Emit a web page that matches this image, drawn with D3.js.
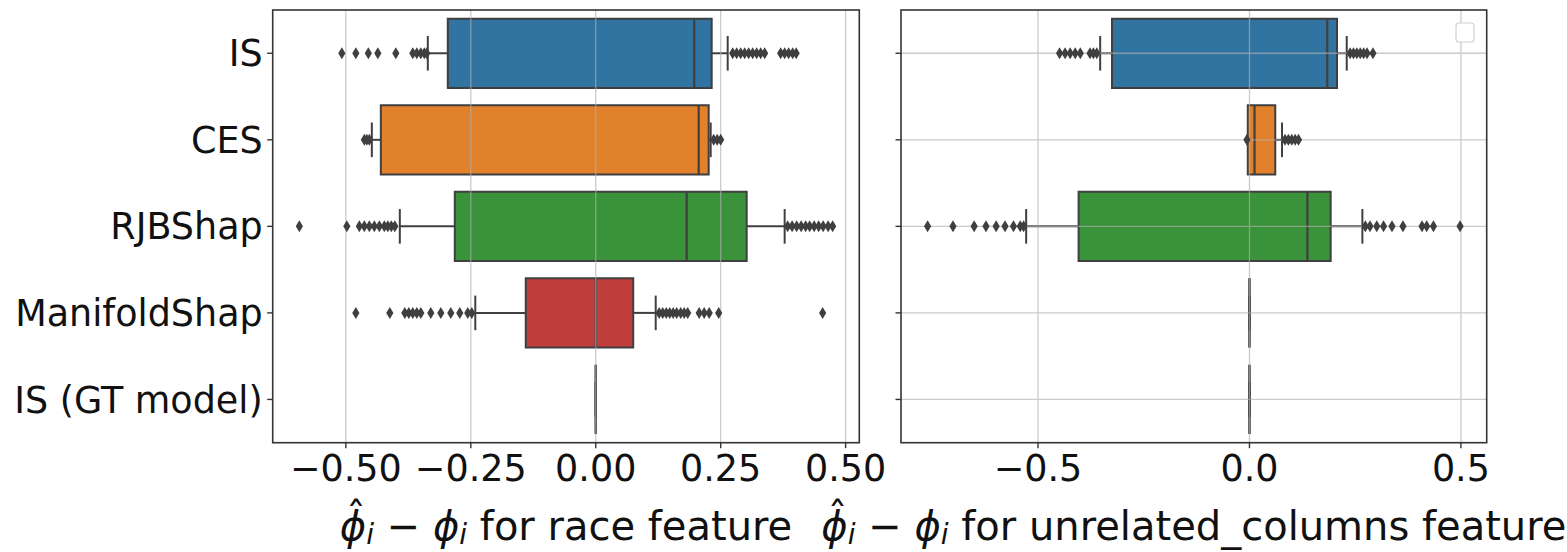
<!DOCTYPE html>
<html>
<head>
<meta charset="utf-8">
<script src="https://cdn.jsdelivr.net/npm/d3@7"></script>
<style>
  html, body { margin: 0; padding: 0; background: #ffffff; }
  svg { display: block; font-family: "DejaVu Sans", sans-serif; }
</style>
</head>
<body>
<svg id="chart" width="1567" height="552"></svg>
<script>
// Methods compared (one row per method)
const categories = ["IS", "CES", "RJBShap", "ManifoldShap", "IS (GT model)"];
const boxColors = ["#3274a1", "#e1812c", "#3a923a", "#c03d3e", "#9372b2"];

// Error of the estimated attribution for the "race" feature
const raceQ1       = [-0.296, -0.430, -0.282, -0.140, 0];
const raceMedian   = [ 0.197,  0.206,  0.182,  0.000, 0];
const raceQ3       = [ 0.232,  0.226,  0.302,  0.075, 0];
const raceWhiskLo  = [-0.336, -0.448, -0.392, -0.241, 0];
const raceWhiskHi  = [ 0.264,  0.230,  0.378,  0.120, 0];
const raceOutliers = [
  [-0.508, -0.480, -0.455, -0.436, -0.400, -0.366, -0.358, -0.350, -0.343, -0.338,
    0.274, 0.282, 0.290, 0.298, 0.306, 0.314, 0.322, 0.330, 0.338, 0.370, 0.378, 0.386, 0.394, 0.401],
  [-0.463, -0.458, -0.453, 0.236, 0.243, 0.250],
  [-0.593, -0.498, -0.473, -0.463, -0.453, -0.443, -0.433, -0.423, -0.416, -0.409, -0.402,
    0.384, 0.393, 0.402, 0.411, 0.420, 0.428, 0.437, 0.446, 0.455, 0.465, 0.474],
  [-0.480, -0.412, -0.382, -0.374, -0.366, -0.358, -0.350, -0.330, -0.310, -0.290, -0.272, -0.256, -0.248,
    0.127, 0.134, 0.141, 0.148, 0.155, 0.162, 0.170, 0.177, 0.184, 0.207, 0.217, 0.227, 0.246, 0.454],
  []
];

// Error of the estimated attribution for the "unrelated_columns" feature
const unrQ1       = [-0.325, -0.004, -0.404, 0, 0];
const unrMedian   = [ 0.184,  0.012,  0.137, 0, 0];
const unrQ3       = [ 0.207,  0.061,  0.192, 0, 0];
const unrWhiskLo  = [-0.353, -0.003, -0.528, 0, 0];
const unrWhiskHi  = [ 0.230,  0.077,  0.267, 0, 0];
const unrOutliers = [
  [-0.449, -0.436, -0.424, -0.412, -0.400, -0.377, -0.369, -0.361,
    0.238, 0.246, 0.254, 0.262, 0.270, 0.278, 0.292],
  [-0.006, 0.084, 0.092, 0.100, 0.108, 0.116],
  [-0.761, -0.701, -0.651, -0.623, -0.599, -0.578, -0.558, -0.542, -0.534,
    0.274, 0.285, 0.301, 0.317, 0.337, 0.363, 0.408, 0.419, 0.435, 0.498],
  [], []
];

// Axis tick values and titles
const raceTicks = [-0.5, -0.25, 0, 0.25, 0.5];
const unrTicks  = [-0.5, 0, 0.5];
const raceTitleRest = " for race feature";
const unrTitleRest  = " for unrelated_columns feature";

const svg = d3.select("#chart");
const lineColor = "#3f3f3f";
const gridColor = "#b0b0b0";
const plotTop = 10, plotBottom = 442.7;
const tickFont = 36.5, titleFont = 40, titleBase = 540;

function padded(extent) {
  const m = (extent[1] - extent[0]) * 0.05;
  return [extent[0] - m, extent[1] + m];
}

function drawPanel(cfg) {
  const allVals = [].concat(cfg.lo, cfg.hi, cfg.q1, cfg.q3, ...cfg.outliers);
  const x = d3.scaleLinear().domain(padded(d3.extent(allVals))).range([cfg.left, cfg.right]);
  const y = d3.scaleBand().domain(categories).range([plotTop, plotBottom]).padding(0);
  const bw = y.bandwidth() * 0.8;
  const g = svg.append("g");
  const rows = categories.map((c, i) => ({
    c, i, q1: cfg.q1[i], med: cfg.med[i], q3: cfg.q3[i], lo: cfg.lo[i], hi: cfg.hi[i], out: cfg.outliers[i]
  }));
  const cy = d => y(d.c) + y.bandwidth() / 2;

  // whiskers
  rows.forEach(d => {
    g.append("line").attr("x1", x(d.lo)).attr("x2", x(d.q1)).attr("y1", cy(d)).attr("y2", cy(d))
      .attr("stroke", lineColor).attr("stroke-width", 2);
    g.append("line").attr("x1", x(d.q3)).attr("x2", x(d.hi)).attr("y1", cy(d)).attr("y2", cy(d))
      .attr("stroke", lineColor).attr("stroke-width", 2);
    [d.lo, d.hi].forEach(v => {
      g.append("line").attr("x1", x(v)).attr("x2", x(v))
        .attr("y1", cy(d) - bw / 4).attr("y2", cy(d) + bw / 4)
        .attr("stroke", lineColor).attr("stroke-width", 2);
    });
  });

  // boxes (paths so that zero-width boxes still show their outline)
  g.selectAll("path.box").data(rows).join("path").attr("class", "box")
    .attr("d", d => {
      const x1 = x(d.q1), x2 = x(d.q3), y0 = cy(d) - bw / 2, y1 = cy(d) + bw / 2;
      return `M${x1},${y0}H${x2}V${y1}H${x1}Z`;
    })
    .attr("fill", d => boxColors[d.i]).attr("stroke", lineColor).attr("stroke-width", 2);

  // medians
  g.selectAll("line.med").data(rows).join("line").attr("class", "med")
    .attr("x1", d => x(d.med)).attr("x2", d => x(d.med))
    .attr("y1", d => cy(d) - bw / 2).attr("y2", d => cy(d) + bw / 2)
    .attr("stroke", lineColor).attr("stroke-width", 2.2);

  // grid on top of the boxes
  const grid = g.append("g").attr("stroke", gridColor).attr("stroke-width", 1.3).attr("opacity", 0.65);
  cfg.ticks.forEach(t => {
    grid.append("line").attr("x1", x(t)).attr("x2", x(t)).attr("y1", plotTop).attr("y2", plotBottom);
  });
  if (cfg.hGrid) {
    categories.forEach(c => {
      const yy = y(c) + y.bandwidth() / 2;
      grid.append("line").attr("x1", cfg.left).attr("x2", cfg.right).attr("y1", yy).attr("y2", yy);
    });
  }

  // outliers as thin diamonds
  const diamond = "M0,-6L3.6,0L0,6L-3.6,0Z";
  rows.forEach(d => {
    g.selectAll(null).data(d.out).join("path")
      .attr("d", diamond)
      .attr("transform", v => `translate(${x(v)},${cy(d)})`)
      .attr("fill", lineColor);
  });

  // frame
  g.append("rect").attr("x", cfg.left).attr("y", plotTop)
    .attr("width", cfg.right - cfg.left).attr("height", plotBottom - plotTop)
    .attr("fill", "none").attr("stroke", "#333333").attr("stroke-width", 1.6);

  // x axis
  const fmt = d3.format(cfg.fmt);
  const xa = g.append("g");
  cfg.ticks.forEach(t => {
    xa.append("line").attr("x1", x(t)).attr("x2", x(t)).attr("y1", plotBottom).attr("y2", plotBottom + 5.5)
      .attr("stroke", "#333333").attr("stroke-width", 1.4);
    xa.append("text").attr("x", x(t)).attr("y", plotBottom + 38).attr("text-anchor", "middle")
      .attr("font-size", tickFont).attr("fill", "#111").text(fmt(t));
  });

  // y axis ticks (+ labels on the first panel)
  categories.forEach(c => {
    const yy = y(c) + y.bandwidth() / 2;
    g.append("line").attr("x1", cfg.left - 5.5).attr("x2", cfg.left).attr("y1", yy).attr("y2", yy)
      .attr("stroke", "#333333").attr("stroke-width", 1.4);
    if (cfg.yLabels) {
      g.append("text").attr("x", cfg.left - 10).attr("y", yy).attr("dy", "0.36em")
        .attr("text-anchor", "end").attr("font-size", tickFont).attr("fill", "#111").text(c);
    }
  });

  // axis title: phi-hat_i - phi_i followed by the feature name
  const cx = (cfg.left + cfg.right) / 2;
  const t = g.append("text").attr("x", cx).attr("y", titleBase).attr("text-anchor", "middle")
    .attr("font-size", titleFont).attr("fill", "#111");
  t.append("tspan").attr("font-style", "italic").text("ϕ");
  t.append("tspan").attr("font-style", "italic").attr("font-size", "0.7em").attr("dy", "0.15em").text("i");
  t.append("tspan").attr("dy", "-0.105em").text(" − ");
  t.append("tspan").attr("font-style", "italic").text("ϕ");
  t.append("tspan").attr("font-style", "italic").attr("font-size", "0.7em").attr("dy", "0.15em").text("i");
  t.append("tspan").attr("dy", "-0.105em").text(cfg.titleRest);
  // circumflex accent over the first phi
  const ext = t.node().getExtentOfChar(0);
  g.append("text").attr("x", ext.x + ext.width / 2 + 3).attr("y", titleBase - 9)
    .attr("text-anchor", "middle").attr("font-size", titleFont).attr("fill", "#111").text("ˆ");
  return x;
}

drawPanel({
  left: 272.7, right: 859.3, q1: raceQ1, med: raceMedian, q3: raceQ3, lo: raceWhiskLo, hi: raceWhiskHi,
  outliers: raceOutliers, ticks: raceTicks, fmt: ".2f", yLabels: true, hGrid: false, titleRest: raceTitleRest
});
drawPanel({
  left: 901, right: 1486.7, q1: unrQ1, med: unrMedian, q3: unrQ3, lo: unrWhiskLo, hi: unrWhiskHi,
  outliers: unrOutliers, ticks: unrTicks, fmt: ".1f", yLabels: false, hGrid: true, titleRest: unrTitleRest
});

// empty legend frame in the upper right corner of the second panel
svg.append("rect").attr("x", 1456).attr("y", 23).attr("width", 18).attr("height", 19).attr("rx", 3)
  .attr("fill", "#ffffff").attr("stroke", "#d0d0d0").attr("stroke-width", 1.2);
</script>
</body>
</html>
